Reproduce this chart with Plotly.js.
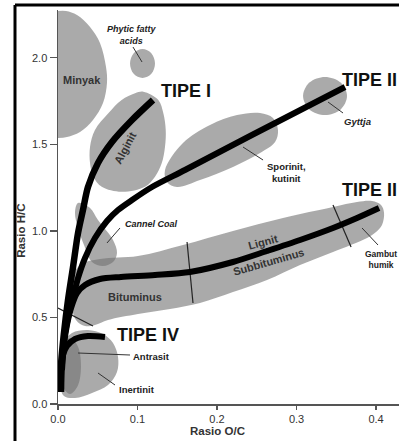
<!DOCTYPE html>
<html>
<head>
<meta charset="utf-8">
<script src="https://cdn.plot.ly/plotly-3.0.1.min.js"></script>
<style>html,body{margin:0;padding:0;background:#fff;}#chart{width:399px;height:441px;}</style>
</head>
<body>
<div id="chart"></div>
<script>
// ---- axis ticks ----
const xTickVals = [0, 0.1, 0.2, 0.3, 0.4];
const yTickVals = [0, 0.5, 1.0, 1.5, 2.0];

// ---- maceral / kerogen regions (Rasio O/C, Rasio H/C) ----
const minyakX = [0, 0.0101, 0.0239, 0.0403, 0.0528, 0.0604, 0.0616, 0.0566, 0.044, 0.0277, 0.0113, 0];
const minyakY = [2.27, 2.27, 2.2466, 2.1773, 2.0849, 1.9463, 1.8539, 1.7384, 1.6402, 1.5709, 1.542, 1.5362];

const phyticX = [0.122, 0.1174, 0.1063, 0.0952, 0.0906, 0.0952, 0.1063, 0.1174, 0.122];
const phyticY = [1.9665, 2.026, 2.0503, 2.026, 1.9665, 1.907, 1.8828, 1.907, 1.9665];

const alginitX = [0.1073, 0.1262, 0.1325, 0.1355, 0.1346, 0.1304, 0.122, 0.1094, 0.0801, 0.055, 0.0444, 0.0403, 0.0403, 0.0465, 0.0633, 0.0801, 0.0969, 0.1073];
const alginitY = [1.8036, 1.7557, 1.6789, 1.5824, 1.486, 1.3901, 1.3127, 1.255, 1.2261, 1.255, 1.3127, 1.3901, 1.486, 1.5824, 1.6789, 1.7557, 1.7943, 1.8036];

const gyttjaX = [0.3635, 0.3555, 0.3358, 0.3162, 0.3082, 0.3162, 0.3358, 0.3555, 0.3635];
const gyttjaY = [1.7788, 1.8562, 1.8885, 1.8562, 1.7788, 1.7014, 1.669, 1.7014, 1.7788];

const sporinitX = [0.1346, 0.1572, 0.1912, 0.2252, 0.2541, 0.2704, 0.2767, 0.273, 0.2541, 0.2201, 0.1786, 0.1497, 0.1371, 0.1346];
const sporinitY = [1.3514, 1.5073, 1.6113, 1.669, 1.6806, 1.6517, 1.5824, 1.5131, 1.4496, 1.3688, 1.2937, 1.2532, 1.2821, 1.3514];

const cannelX = [0.0252, 0.0403, 0.0503, 0.0692, 0.0742, 0.0692, 0.0566, 0.0428, 0.0327, 0.0252, 0.0214, 0.0252];
const cannelY = [1.1608, 1.132, 1.0627, 0.9471, 0.872, 0.8201, 0.797, 0.8201, 0.9183, 1.0165, 1.1031, 1.1608];

const coalBandX = [0.0277, 0.0528, 0.1006, 0.1572, 0.2201, 0.283, 0.3459, 0.3761, 0.395, 0.4063, 0.4101, 0.4075,
                   0.4, 0.3887, 0.3459, 0.3044, 0.2629, 0.2201, 0.1786, 0.1409, 0.1006, 0.0629, 0.0465, 0.034, 0.0226, 0.0164, 0.0176, 0.0277];
const coalBandY = [0.8028, 0.8374, 0.8547, 0.9183, 0.9991, 1.0742, 1.1377, 1.1666, 1.1724, 1.1493, 1.1031, 1.0338,
                   0.9933, 0.9587, 0.8778, 0.8028, 0.7161, 0.6468, 0.5833, 0.5487, 0.5198, 0.4851, 0.4562, 0.4505, 0.4851, 0.6006, 0.7161, 0.8028];

const inertinitX = [0.0176, 0.0377, 0.0566, 0.0692, 0.0755, 0.0742, 0.0629, 0.0428, 0.0214, 0.0075, 0.0025, 0.0013, 0.005, 0.0176];
const inertinitY = [0.41, 0.4274, 0.4043, 0.3523, 0.2714, 0.1848, 0.1097, 0.0635, 0.0347, 0.0462, 0.1097, 0.2252, 0.3407, 0.41];

const antrasitX = [0.0289, 0.0249, 0.0151, 0.0053, 0.0013, 0.0053, 0.0151, 0.0249, 0.0289];
const antrasitY = [0.2195, 0.3338, 0.3812, 0.3338, 0.2195, 0.1051, 0.0578, 0.1051, 0.2195];

// ---- evolution paths ----
const tipe1X = [0.1195, 0.0931, 0.0679, 0.0503, 0.0377, 0.0314, 0.0252, 0.0189, 0.0126, 0.0075, 0.0038, 0.0038];
const tipe1Y = [1.7557, 1.6402, 1.5131, 1.3918, 1.2532, 1.1204, 0.9876, 0.7912, 0.6006, 0.41, 0.2252, 0.0693];

const tipe2X = [0.361, 0.2415, 0.1597, 0.1182, 0.0931, 0.0755, 0.0616, 0.0465, 0.034, 0.0252, 0.0189, 0.0126, 0.0075, 0.005, 0.0038];
const tipe2Y = [1.8308, 1.5478, 1.3514, 1.2532, 1.1782, 1.1204, 1.0569, 0.9587, 0.8432, 0.7277, 0.6122, 0.4967, 0.3696, 0.2252, 0.0693];

const tipe3X = [0.4038, 0.3761, 0.3459, 0.3044, 0.2629, 0.2201, 0.166, 0.122, 0.0792, 0.0528, 0.034, 0.0239, 0.0164, 0.0113, 0.0075, 0.005];
const tipe3Y = [1.132, 1.0742, 1.0165, 0.9471, 0.8836, 0.8201, 0.7623, 0.745, 0.7335, 0.7219, 0.6873, 0.641, 0.5544, 0.4562, 0.3407, 0.1964];

const tipe4X = [0.0591, 0.0377, 0.0214, 0.0113, 0.0063, 0.0038, 0.0038];
const tipe4Y = [0.3869, 0.3927, 0.3754, 0.335, 0.283, 0.1964, 0.0693];

// ---- thin boundary lines across the coal band (null = gap) ----
const rankLineX = [0, 0.044, null, 0.1623, 0.1698, null, 0.3459, 0.3686];
const rankLineY = [0.5544, 0.4505, null, 0.9356, 0.5833, null, 1.1493, 0.9067];

// ---- leader lines for labels (null = gap) ----
const leaderX = [0.0943, 0.1057, null, 0.3396, 0.3585, null, 0.2327, 0.2579, null, 0.0616, 0.078, null,
                 0.3824, 0.4025, null, 0.0252, 0.0906, null, 0.0503, 0.0717];
const leaderY = [2.0618, 1.9752, null, 1.7441, 1.6806, null, 1.4842, 1.4092, null, 0.9298, 1.0165, null,
                 1.0165, 0.9183, null, 0.2945, 0.283, null, 0.179, 0.1097];

// ---- label texts ----
const typeLabels = ['TIPE I', 'TIPE II', 'TIPE II', 'TIPE IV'];
const regionLabels = ['Minyak', 'Alginit', 'Bituminus', 'Lignit', 'Subbituminus'];
const noteLabels = ['Phytic fatty<br>acids', 'Gyttja', 'Sporinit,<br>kutinit', 'Cannel Coal', 'Gambut<br>humik', 'Antrasit', 'Inertinit'];
const axisTitles = ['Rasio O/C', 'Rasio H/C'];

const FONT = 'Liberation Sans, Arial, Helvetica, sans-serif';
const FILL = 'rgba(113,113,113,0.6)';

function region(x, y, fill) {
  return {x: x, y: y, type: 'scatter', mode: 'lines', fill: 'toself', fillcolor: fill || FILL,
          line: {width: 0, shape: 'spline', smoothing: 1}, hoverinfo: 'skip', showlegend: false};
}
function path(x, y, w) {
  return {x: x, y: y, type: 'scatter', mode: 'lines', line: {color: '#000', width: w, shape: 'spline', smoothing: 0.8},
          hoverinfo: 'skip', showlegend: false};
}

const traces = [
  region(minyakX, minyakY),
  region(phyticX, phyticY),
  region(alginitX, alginitY),
  region(gyttjaX, gyttjaY),
  region(sporinitX, sporinitY),
  region(coalBandX, coalBandY),
  region(cannelX, cannelY),
  region(inertinitX, inertinitY),
  region(antrasitX, antrasitY),
  {x: rankLineX, y: rankLineY, type: 'scatter', mode: 'lines', line: {color: '#222', width: 1.2}, connectgaps: false, hoverinfo: 'skip', showlegend: false},
  {x: leaderX, y: leaderY, type: 'scatter', mode: 'lines', line: {color: '#333', width: 1}, connectgaps: false, hoverinfo: 'skip', showlegend: false},
  path(tipe3X, tipe3Y, 6),
  path(tipe4X, tipe4Y, 6),
  path(tipe2X, tipe2Y, 6),
  path(tipe1X, tipe1Y, 6.5)
];

function ann(text, x, y, size, opts) {
  return Object.assign({text: text, x: x, y: y, xref: 'x', yref: 'y', showarrow: false,
    font: {family: FONT, size: size, color: '#222', weight: 'bold'}}, opts || {});
}
const typeFont = {family: FONT, size: 18, color: '#111', weight: 'bold'};

const annotations = [
  // type labels
  ann(typeLabels[0], 0.161, 1.8106, 18, {font: typeFont}),
  ann(typeLabels[1], 0.4289, 1.8741, 18, {xanchor: 'right', font: typeFont}),
  ann(typeLabels[2], 0.4289, 1.2359, 18, {xanchor: 'right', font: typeFont}),
  ann(typeLabels[3], 0.1132, 0.4014, 18, {font: typeFont}),
  // region labels
  ann(regionLabels[0], 0.0302, 1.8712, 11, {font: {family: FONT, size: 11, color: '#333', weight: 'bold'}}),
  ann(regionLabels[1], 0.0843, 1.4785, 11, {textangle: -62, font: {family: FONT, size: 11, color: '#333', weight: 'bold'}}),
  ann(regionLabels[2], 0.0969, 0.618, 11, {font: {family: FONT, size: 11, color: '#333', weight: 'bold'}}),
  ann(regionLabels[3], 0.2579, 0.9356, 11, {textangle: -15, font: {family: FONT, size: 11, color: '#333', weight: 'bold'}}),
  ann(regionLabels[4], 0.2642, 0.8201, 11, {textangle: -16, font: {family: FONT, size: 11, color: '#333', weight: 'bold'}}),
  // notes
  ann(noteLabels[0], 0.0931, 2.134, 9, {font: {family: FONT, size: 9, color: '#222', weight: 'bold', style: 'italic'}}),
  ann(noteLabels[1], 0.3761, 1.6344, 9.5, {font: {family: FONT, size: 9.5, color: '#222', weight: 'bold', style: 'italic'}}),
  ann(noteLabels[2], 0.2868, 1.3399, 9.5, {font: {family: FONT, size: 9.5, color: '#222', weight: 'bold'}}),
  ann(noteLabels[3], 0.117, 1.0396, 9, {font: {family: FONT, size: 9, color: '#222', weight: 'bold', style: 'italic'}}),
  ann(noteLabels[4], 0.4063, 0.8374, 8.5, {font: {family: FONT, size: 8.5, color: '#222', weight: 'bold'}}),
  ann(noteLabels[5], 0.1182, 0.2772, 9.5, {font: {family: FONT, size: 9.5, color: '#222', weight: 'bold'}}),
  ann(noteLabels[6], 0.0994, 0.0866, 9.5, {font: {family: FONT, size: 9.5, color: '#222', weight: 'bold'}}),
  // axis titles
  {text: axisTitles[0], xref: 'x', yref: 'paper', x: 0.2, y: -0.0685, xanchor: 'center', yanchor: 'middle', showarrow: false,
   borderpad: 0, font: {family: FONT, size: 11.5, color: '#333', weight: 'bold'}},
  {text: axisTitles[1], xref: 'paper', yref: 'y', x: -0.1085, y: 1.0, xanchor: 'center', yanchor: 'middle', showarrow: false, textangle: -90,
   borderpad: 0, font: {family: FONT, size: 11.5, color: '#333', weight: 'bold'}}
];

const axisCommon = {
  showgrid: false, zeroline: false, showline: true, linecolor: '#555', linewidth: 1.5,
  ticks: 'outside', tickcolor: '#555', tickwidth: 1.5, tickformat: '.1f',
  tickfont: {family: FONT, size: 11, color: '#333'}, fixedrange: true
};

const layout = {
  width: 399, height: 441,
  margin: {l: 58, r: 0, t: 10, b: 37, pad: 0},
  paper_bgcolor: '#fff', plot_bgcolor: '#fff',
  showlegend: false,
  xaxis: Object.assign({}, axisCommon, {range: [0, 0.4289], tickvals: xTickVals, ticklen: 4}),
  yaxis: Object.assign({}, axisCommon, {range: [0, 2.2755], tickvals: yTickVals, ticklen: 7}),
  annotations: annotations,
  shapes: [
    {type: 'line', xref: 'paper', yref: 'paper', x0: -0.1261, x1: -0.1261, y0: -0.1, y1: 1.0127, line: {color: '#000', width: 3}},
    {type: 'line', xref: 'paper', yref: 'paper', x0: -0.1261, x1: 1.01, y0: 1.0127, y1: 1.0127, line: {color: '#000', width: 3}}
  ]
};

Plotly.newPlot('chart', traces, layout, {displayModeBar: false, staticPlot: true});
</script>
</body>
</html>
